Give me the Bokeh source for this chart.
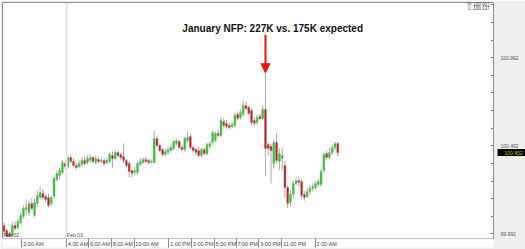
from bokeh.plotting import figure
from bokeh.models import (FixedTicker, LinearAxis, Range1d, Span, Label, Arrow,
                          NormalHead, ColumnDataSource, PrintfTickFormatter)
from bokeh.embed import file_html
from bokeh.resources import INLINE

# ---- data (15-minute candles) ----
open_ = [100.039, 100.011, 99.994, 99.982, 100.039, 100.028, 100.056, 100.090, 100.130, 100.113,
         100.164, 100.096, 100.164, 100.198, 100.221, 100.204, 100.198, 100.164, 100.204, 100.301,
         100.323, 100.340, 100.392, 100.374, 100.426, 100.403, 100.380, 100.374, 100.386, 100.409,
         100.397, 100.409, 100.426, 100.397, 100.414, 100.403, 100.409, 100.397, 100.403, 100.437,
         100.420, 100.454, 100.443, 100.431, 100.409, 100.392, 100.352, 100.340, 100.340, 100.386,
         100.397, 100.414, 100.409, 100.397, 100.397, 100.534, 100.494, 100.471, 100.443, 100.454,
         100.465, 100.477, 100.505, 100.516, 100.482, 100.471, 100.522, 100.545, 100.482, 100.471,
         100.465, 100.437, 100.471, 100.448, 100.488, 100.511, 100.522, 100.562, 100.551, 100.630,
         100.619, 100.607, 100.602, 100.607, 100.670, 100.653, 100.670, 100.721, 100.710, 100.693,
         100.636, 100.624, 100.659, 100.647, 100.698, 100.499, 100.488, 100.392, 100.511, 100.403,
         100.420, 100.380, 100.255, 100.170, 100.215, 100.278, 100.295, 100.289, 100.215, 100.204,
         100.233, 100.250, 100.255, 100.272, 100.272, 100.352, 100.448, 100.426, 100.454, 100.482,
         100.505]
high = [100.056, 100.022, 100.005, 100.056, 100.062, 100.079, 100.113, 100.153, 100.187, 100.181,
        100.193, 100.193, 100.238, 100.261, 100.244, 100.215, 100.221, 100.210, 100.318, 100.352,
        100.369, 100.409, 100.409, 100.437, 100.443, 100.420, 100.392, 100.409, 100.426, 100.431,
        100.437, 100.443, 100.437, 100.437, 100.431, 100.426, 100.420, 100.426, 100.454, 100.460,
        100.465, 100.465, 100.454, 100.505, 100.420, 100.403, 100.363, 100.369, 100.403, 100.420,
        100.426, 100.431, 100.420, 100.414, 100.579, 100.545, 100.505, 100.482, 100.477, 100.488,
        100.499, 100.528, 100.534, 100.528, 100.494, 100.545, 100.573, 100.562, 100.494, 100.482,
        100.482, 100.482, 100.482, 100.511, 100.516, 100.579, 100.573, 100.585, 100.653, 100.647,
        100.636, 100.624, 100.630, 100.681, 100.687, 100.698, 100.749, 100.744, 100.721, 100.704,
        100.653, 100.670, 100.675, 100.721, 100.907, 100.516, 100.505, 100.528, 100.562, 100.477,
        100.477, 100.409, 100.267, 100.238, 100.295, 100.318, 100.318, 100.306, 100.233, 100.250,
        100.267, 100.278, 100.289, 100.306, 100.358, 100.454, 100.465, 100.482, 100.499, 100.516,
        100.516]
low = [99.988, 99.971, 99.971, 99.971, 100.011, 100.016, 100.045, 100.079, 100.096, 100.096,
       100.124, 100.085, 100.147, 100.187, 100.187, 100.170, 100.142, 100.147, 100.193, 100.289,
       100.301, 100.329, 100.358, 100.363, 100.392, 100.369, 100.358, 100.363, 100.374, 100.380,
       100.386, 100.397, 100.392, 100.386, 100.392, 100.392, 100.380, 100.386, 100.392, 100.369,
       100.409, 100.426, 100.409, 100.392, 100.369, 100.312, 100.312, 100.323, 100.329, 100.374,
       100.386, 100.392, 100.386, 100.392, 100.392, 100.482, 100.454, 100.431, 100.431, 100.443,
       100.454, 100.465, 100.494, 100.471, 100.460, 100.460, 100.511, 100.471, 100.454, 100.437,
       100.426, 100.426, 100.437, 100.437, 100.477, 100.499, 100.511, 100.539, 100.539, 100.596,
       100.590, 100.585, 100.590, 100.596, 100.636, 100.641, 100.659, 100.693, 100.664, 100.607,
       100.602, 100.613, 100.636, 100.636, 100.323, 100.437, 100.278, 100.363, 100.392, 100.352,
       100.352, 100.198, 100.137, 100.147, 100.193, 100.267, 100.261, 100.193, 100.181, 100.193,
       100.215, 100.233, 100.244, 100.261, 100.261, 100.340, 100.409, 100.414, 100.437, 100.465,
       100.431]
close = [100.005, 99.977, 99.977, 100.039, 100.022, 100.062, 100.096, 100.136, 100.142, 100.164,
         100.136, 100.170, 100.210, 100.227, 100.198, 100.187, 100.153, 100.198, 100.306, 100.335,
         100.352, 100.397, 100.374, 100.426, 100.403, 100.380, 100.369, 100.392, 100.409, 100.392,
         100.420, 100.426, 100.403, 100.420, 100.403, 100.409, 100.392, 100.409, 100.443, 100.420,
         100.454, 100.437, 100.426, 100.409, 100.380, 100.346, 100.335, 100.352, 100.392, 100.403,
         100.414, 100.403, 100.397, 100.403, 100.534, 100.494, 100.465, 100.443, 100.460, 100.471,
         100.482, 100.516, 100.522, 100.482, 100.471, 100.534, 100.539, 100.482, 100.465, 100.454,
         100.437, 100.471, 100.448, 100.499, 100.505, 100.568, 100.562, 100.551, 100.636, 100.607,
         100.602, 100.596, 100.613, 100.664, 100.647, 100.681, 100.721, 100.704, 100.675, 100.624,
         100.619, 100.653, 100.647, 100.698, 100.477, 100.477, 100.465, 100.511, 100.409, 100.448,
         100.437, 100.255, 100.164, 100.215, 100.278, 100.295, 100.284, 100.210, 100.198, 100.233,
         100.250, 100.261, 100.278, 100.289, 100.346, 100.443, 100.426, 100.454, 100.482, 100.505,
         100.452]

day_start = 23          # first candle of Feb 03
nfp_bar = 94            # the release candle
title_text = "January NFP: 227K vs. 175K expected"

price_ticks = [99.992, 100.492, 100.992]
price_minor_ticks = [99.992, 100.092, 100.192, 100.292, 100.392, 100.492, 100.592, 100.692,
                     100.792, 100.892, 100.992, 101.092, 101.192, 101.292]
time_separators = [6.48, 22.49, 30.43, 38.61, 46.8, 59.25, 67.44, 75.62, 83.45, 91.64, 99.82, 111.92]
time_labels = ["2:00 AM", "4:00 AM", "6:00 AM", "8:00 AM", "10:00 AM", "1:00 PM", "3:00 PM",
               "5:00 PM", "7:00 PM", "9:00 PM", "11:00 PM", "2:00 AM"]
date_labels = ["Feb 02", "Feb 03"]

# ---- derived ----
n = len(close)
idx = list(range(n))
bull = [c >= o for o, c in zip(open_, close)]
src_up = ColumnDataSource(dict(
    x=[i for i in idx if bull[i]],
    top=[close[i] for i in idx if bull[i]],
    bottom=[open_[i] for i in idx if bull[i]]))
src_dn = ColumnDataSource(dict(
    x=[i for i in idx if not bull[i]],
    top=[open_[i] for i in idx if not bull[i]],
    bottom=[close[i] for i in idx if not bull[i]]))
src_wick = ColumnDataSource(dict(x=idx, high=high, low=low))

day_high = max(high[day_start:])
day_low = min(low[day_start:])

PX = 2.81  # pixels per candle
X0, X1 = -0.53, 175.98
Y0, Y1 = 99.9653, 101.3062

p = figure(width=525, height=249, output_backend="svg", toolbar_location=None,
           x_range=Range1d(X0, X1), y_range=Range1d(Y0, Y1),
           x_axis_location=None, y_axis_location=None,
           min_border_left=2, min_border_right=27, min_border_top=2, min_border_bottom=11)
p.grid.visible = False
p.background_fill_color = "white"
p.border_fill_color = "#efefed"
p.outline_line_color = "#8c8c8c"
p.outline_line_width = 1

# day separator
p.add_layout(Span(location=time_separators[1], dimension="height",
                  line_color="#dfe8e6", line_width=2))

# candles
p.segment(x0="x", y0="high", x1="x", y1="low", source=src_wick, line_color="#a8a8a8", line_width=1)
p.vbar(x="x", width=0.72, top="top", bottom="bottom", source=src_up,
       fill_color="#22cc22", line_color="#8fa88f", line_width=0.4)
p.vbar(x="x", width=0.72, top="top", bottom="bottom", source=src_dn,
       fill_color="#c41c1c", line_color="#a08080", line_width=0.4)

# right price axis
yax = LinearAxis(ticker=FixedTicker(ticks=price_ticks, minor_ticks=price_minor_ticks),
                 formatter=PrintfTickFormatter(format="%.3f"),
                 axis_line_color="#8c8c8c",
                 major_tick_in=3, major_tick_out=0, minor_tick_in=3, minor_tick_out=0,
                 major_tick_line_color="#8c8c8c", minor_tick_line_color="#8c8c8c",
                 major_label_text_font_size="5px", major_label_text_color="#555555",
                 major_label_text_font="Liberation Sans", major_label_standoff=7)
p.add_layout(yax, "right")

# current price tag: a second right axis whose single thick tick is the black box
tag = LinearAxis(ticker=FixedTicker(ticks=[close[-1]], minor_ticks=[]),
                 formatter=PrintfTickFormatter(format="%.3f"),
                 axis_line_color=None,
                 major_tick_in=24, major_tick_out=4, major_tick_line_color="black",
                 major_tick_line_width=7, major_tick_line_cap="butt",
                 minor_tick_line_color=None,
                 major_label_text_font_size="5px", major_label_text_color="#cccc00",
                 major_label_text_font="Liberation Sans", major_label_standoff=-21)
p.add_layout(tag, "right")

# bottom time strip: first axis draws the separators, second one the labels
sep_axis = LinearAxis(ticker=FixedTicker(ticks=time_separators, minor_ticks=[]),
                      major_label_overrides={s: "" for s in time_separators},
                      major_label_text_font_size="1px", major_label_standoff=-4,
                      axis_line_color=None, major_tick_in=0, major_tick_out=9,
                      major_tick_line_color="#8a8a8a", minor_tick_line_color=None,
                      background_fill_color="white")
p.add_layout(sep_axis, "below")

label_pos = [round(s + (1.5 + 1.45 * len(t)) / PX, 3) for s, t in zip(time_separators, time_labels)]
xax = LinearAxis(ticker=FixedTicker(ticks=label_pos, minor_ticks=[]),
                 major_label_overrides={pos: t for pos, t in zip(label_pos, time_labels)},
                 axis_line_color=None, major_tick_line_color=None, major_tick_in=0, major_tick_out=1,
                 minor_tick_line_color=None,
                 major_label_text_font_size="5.5px", major_label_text_color="#444444",
                 major_label_text_font="Liberation Sans", major_label_standoff=-8)
p.add_layout(xax, "below")

# date labels at the bottom of the chart
for xpos, t in zip([-0.2, time_separators[1] + 0.2], date_labels):
    p.add_layout(Label(x=xpos, y=Y0, y_offset=1, text=t, text_baseline="bottom",
                       text_align="left", text_font_size="5px", text_color="#444444",
                       text_font="Liberation Sans"))

# day high / low
p.add_layout(Label(x=X1, y=101.296, x_offset=-4, text=f"H: {day_high:.3f}", text_align="right",
                   text_baseline="middle", text_font_size="4.5px", text_color="#333333",
                   text_font="Liberation Sans"))
p.add_layout(Label(x=X1, y=101.270, x_offset=-4, text=f"L: {day_low:.3f}", text_align="right",
                   text_baseline="middle", text_font_size="4.5px", text_color="#333333",
                   text_font="Liberation Sans"))

# title and arrow
p.add_layout(Label(x=96.6, y=101.158, text=title_text, text_align="center", text_baseline="middle",
                   text_font_size="10px", text_font_style="bold", text_color="#111111",
                   text_font="Liberation Sans"))
p.add_layout(Arrow(end=NormalHead(size=9, fill_color="#ee1111", line_color="#ee1111"),
                   x_start=nfp_bar, y_start=101.122, x_end=nfp_bar, y_end=high[nfp_bar],
                   line_color="#ee1111", line_width=2))

open("out.html", "w").write(file_html(p, INLINE))
